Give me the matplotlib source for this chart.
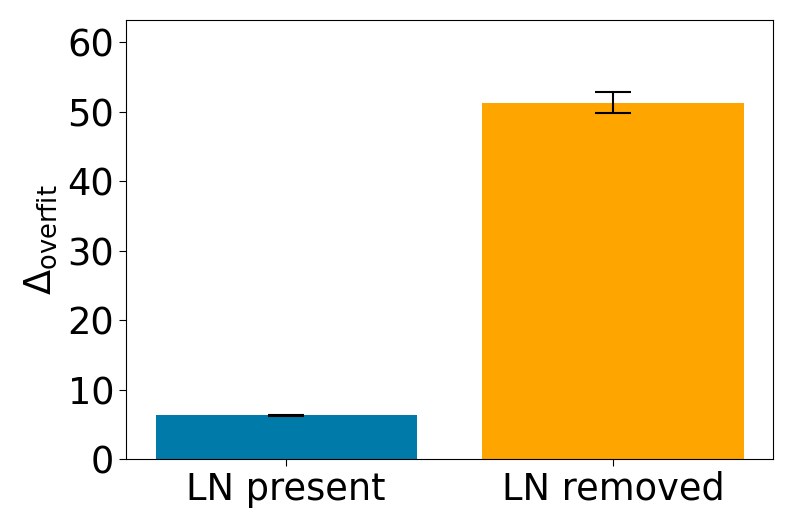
import matplotlib
matplotlib.use("Agg")
import matplotlib.pyplot as plt

labels = ["LN present", "LN removed"]
means = [6.3, 51.3]
errors = [0.05, 1.5]
colors = ["#007AA8", "#FFA500"]

fig, ax = plt.subplots(figsize=(7.93, 5.29), dpi=100)
ax.bar(labels, means, yerr=errors, color=colors, width=0.8,
       capsize=13, error_kw=dict(elinewidth=1.5, capthick=1.5, ecolor="black"))
ax.set_ylim(0, 63.2)
ax.set_yticks(range(0, 61, 10))
ax.set_ylabel(r"$\Delta_{\mathrm{overfit}}$", fontsize=26.5, labelpad=6)
ax.tick_params(axis="both", labelsize=26.5, length=5)
fig.subplots_adjust(left=0.159, right=0.975, top=0.962, bottom=0.132)
fig.savefig("out.png", dpi=100)
